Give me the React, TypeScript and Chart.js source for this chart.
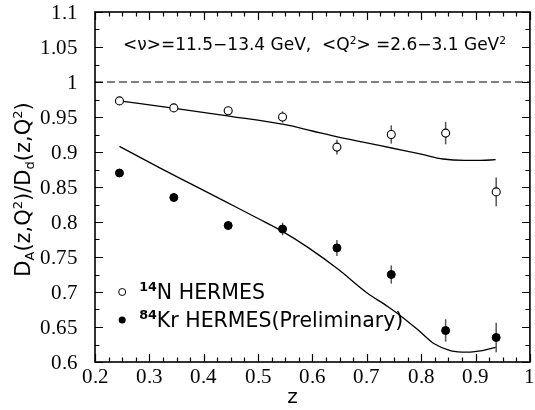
import React, { useEffect, useRef } from "react";
import { Chart, registerables } from "chart.js";

Chart.register(...registerables);

// ---- data ----
const zValues = [0.245, 0.345, 0.445, 0.545, 0.645, 0.745, 0.845, 0.938];
const nitrogenRatio = [0.973, 0.963, 0.959, 0.95, 0.907, 0.925, 0.927, 0.843];
const nitrogenError = [0.004, 0.004, 0.005, 0.008, 0.0105, 0.013, 0.016, 0.0205];
const kryptonRatio = [0.87, 0.835, 0.795, 0.79, 0.763, 0.725, 0.645, 0.635];
const kryptonError = [0.004, 0.006, 0.006, 0.009, 0.0114, 0.013, 0.016, 0.021];

const nCurveZ = [0.245, 0.35, 0.45, 0.55, 0.6, 0.65, 0.7, 0.75, 0.8, 0.84, 0.88, 0.91, 0.937];
const nCurveRatio = [0.973, 0.962, 0.951, 0.939, 0.93, 0.921, 0.913, 0.905, 0.897, 0.89, 0.888, 0.888, 0.889];
const krCurveZ = [0.245, 0.32, 0.38, 0.44, 0.5, 0.544, 0.593, 0.648, 0.7, 0.739, 0.757, 0.794, 0.824, 0.855, 0.885, 0.909, 0.937];
const krCurveRatio = [0.908, 0.877, 0.853, 0.829, 0.805, 0.787, 0.763, 0.732, 0.699, 0.679, 0.669, 0.646, 0.626, 0.616, 0.614, 0.616, 0.621];

const referenceZ = [0.2, 1];
const referenceRatio = [1, 1];

const xTickValues = [0.2, 0.3, 0.4, 0.5, 0.6, 0.7, 0.8, 0.9, 1];
const xTickLabels = ["0.2", "0.3", "0.4", "0.5", "0.6", "0.7", "0.8", "0.9", "1"];
const yTickValues = [0.6, 0.65, 0.7, 0.75, 0.8, 0.85, 0.9, 0.95, 1, 1.05, 1.1];
const yTickLabels = ["0.6", "0.65", "0.7", "0.75", "0.8", "0.85", "0.9", "0.95", "1", "1.05", "1.1"];
const xMinorDivisions = 4;
const yMinorDivisions = 2;

const annotationText = ["<ν>=11.5−13.4 GeV,  <Q", "2", "> =2.6−3.1 GeV", "2"];
const legendLabels = [
  { sup: "14", text: "N HERMES", filled: false, ratio: 0.7 },
  { sup: "84", text: "Kr HERMES(Preliminary)", filled: true, ratio: 0.66 },
];

const SANS = "'DejaVu Sans'";
const SERIF_FONT = "21px TickSerif, 'Liberation Serif', serif";

type Run = { text: string; mode?: "sup" | "sub"; bold?: boolean };

function runFont(size: number, r: Run, family: string) {
  const s = r.mode ? size * 0.62 : size;
  return `${r.bold ? "bold " : ""}${s}px ${family}`;
}

function runsWidth(ctx: CanvasRenderingContext2D, runs: Run[], size: number, family: string) {
  let w = 0;
  for (const r of runs) {
    ctx.font = runFont(size, r, family);
    w += ctx.measureText(r.text).width;
  }
  return w;
}

function drawRuns(ctx: CanvasRenderingContext2D, runs: Run[], x: number, y: number, size: number, family: string) {
  let cx = x;
  for (const r of runs) {
    ctx.font = runFont(size, r, family);
    const dy = r.mode === "sup" ? -size * 0.38 : r.mode === "sub" ? size * 0.18 : 0;
    ctx.fillText(r.text, cx, y + dy);
    cx += ctx.measureText(r.text).width;
  }
}

const errorBarPlugin = {
  id: "errorBars",
  beforeDatasetsDraw(chart: any) {
    const { ctx, scales } = chart;
    const xs = scales.x;
    const ys = scales.y;
    ctx.save();
    ctx.strokeStyle = "#555";
    ctx.lineWidth = 1.5;
    const sets = [
      [nitrogenRatio, nitrogenError],
      [kryptonRatio, kryptonError],
    ];
    for (const [vals, errs] of sets) {
      vals.forEach((v, i) => {
        const px = xs.getPixelForValue(zValues[i]);
        ctx.beginPath();
        ctx.moveTo(px, ys.getPixelForValue(v - errs[i]));
        ctx.lineTo(px, ys.getPixelForValue(v + errs[i]));
        ctx.stroke();
      });
    }
    ctx.restore();
  },
};

const framePlugin = {
  id: "frameTicks",
  afterDatasetsDraw(chart: any) {
    const { ctx, chartArea: a, scales } = chart;
    const xs = scales.x;
    const ys = scales.y;
    ctx.save();
    ctx.strokeStyle = "#000";
    ctx.lineWidth = 1.2;
    const major = 8;
    const minor = 4.5;
    const xTick = (v: number, len: number) => {
      const p = Math.round(xs.getPixelForValue(v)) + 0.5;
      ctx.beginPath();
      ctx.moveTo(p, a.bottom);
      ctx.lineTo(p, a.bottom - len);
      ctx.moveTo(p, a.top);
      ctx.lineTo(p, a.top + len);
      ctx.stroke();
    };
    const yTick = (v: number, len: number) => {
      const p = Math.round(ys.getPixelForValue(v)) + 0.5;
      ctx.beginPath();
      ctx.moveTo(a.left, p);
      ctx.lineTo(a.left + len, p);
      ctx.moveTo(a.right, p);
      ctx.lineTo(a.right - len, p);
      ctx.stroke();
    };
    xTickValues.forEach((v, i) => {
      xTick(v, major);
      if (i < xTickValues.length - 1) {
        const step = (xTickValues[i + 1] - v) / xMinorDivisions;
        for (let k = 1; k < xMinorDivisions; k++) xTick(v + k * step, minor);
      }
    });
    yTickValues.forEach((v, i) => {
      yTick(v, major);
      if (i < yTickValues.length - 1) {
        const step = (yTickValues[i + 1] - v) / yMinorDivisions;
        for (let k = 1; k < yMinorDivisions; k++) yTick(v + k * step, minor);
      }
    });
    ctx.lineWidth = 1.6;
    ctx.strokeRect(a.left, a.top, a.right - a.left, a.bottom - a.top);

    // tick labels (Times-like serif, positioned through the scales)
    ctx.fillStyle = "#000";
    ctx.font = SERIF_FONT;
    ctx.textBaseline = "alphabetic";
    ctx.textAlign = "right";
    yTickValues.forEach((v, i) => {
      ctx.fillText(yTickLabels[i], a.left - 17, ys.getPixelForValue(v) + 7);
    });
    ctx.textAlign = "center";
    xTickValues.forEach((v, i) => {
      ctx.fillText(xTickLabels[i], xs.getPixelForValue(v), a.bottom + 21);
    });
    ctx.restore();
  },
};

const textPlugin = {
  id: "texts",
  afterDraw(chart: any) {
    const { ctx, chartArea: a, scales } = chart;
    const xs = scales.x;
    const ys = scales.y;
    ctx.save();
    ctx.fillStyle = "#000";
    ctx.textBaseline = "alphabetic";
    ctx.textAlign = "left";

    // annotation
    const ann: Run[] = [
      { text: annotationText[0] },
      { text: annotationText[1], mode: "sup" },
      { text: annotationText[2] },
      { text: annotationText[3], mode: "sup" },
    ];
    drawRuns(ctx, ann, a.left + 28, a.top + 38, 17, SANS);

    // legend
    legendLabels.forEach((l) => {
      const px = xs.getPixelForValue(0.25);
      const py = ys.getPixelForValue(l.ratio);
      ctx.beginPath();
      ctx.arc(px, py, 3.5, 0, Math.PI * 2);
      if (l.filled) {
        ctx.fillStyle = "#000";
        ctx.fill();
      } else {
        ctx.fillStyle = "#fff";
        ctx.fill();
        ctx.strokeStyle = "#000";
        ctx.lineWidth = 1;
        ctx.stroke();
      }
      ctx.fillStyle = "#000";
      drawRuns(
        ctx,
        [{ text: l.sup, mode: "sup", bold: true }, { text: l.text }],
        px + 17,
        py + 7,
        20.5,
        SANS
      );
    });

    // x title
    ctx.font = `20px ${SANS}`;
    ctx.textAlign = "center";
    ctx.fillText("z", 292.5, 403);

    // y title
    const yt: Run[] = [
      { text: "D" },
      { text: "A", mode: "sub" },
      { text: "(z,Q" },
      { text: "2", mode: "sup" },
      { text: ")/D" },
      { text: "d", mode: "sub" },
      { text: "(z,Q" },
      { text: "2", mode: "sup" },
      { text: ")" },
    ];
    ctx.textAlign = "left";
    const w = runsWidth(ctx, yt, 21, SANS);
    ctx.translate(30, 189.5);
    ctx.rotate(-Math.PI / 2);
    drawRuns(ctx, yt, -w / 2, 0, 21, SANS);
    ctx.restore();
  },
};

export default function App() {
  const ref = useRef<HTMLCanvasElement | null>(null);

  useEffect(() => {
    document.body.style.margin = "0";
    const canvas = ref.current;
    if (!canvas) return;
    const toPts = (xs: number[], ys: number[]) => xs.map((x, i) => ({ x, y: ys[i] }));
    const chart = new Chart(canvas, {
      type: "scatter",
      data: {
        datasets: [
          {
            data: toPts(zValues, nitrogenRatio),
            pointRadius: 4,
            pointBackgroundColor: "#fff",
            pointBorderColor: "#000",
            pointBorderWidth: 1.1,
            showLine: false,
            order: 0,
          },
          {
            data: toPts(zValues, kryptonRatio),
            pointRadius: 4,
            pointBackgroundColor: "#000",
            pointBorderColor: "#000",
            pointBorderWidth: 1,
            showLine: false,
            order: 0,
          },
          {
            data: toPts(nCurveZ, nCurveRatio),
            showLine: true,
            pointRadius: 0,
            borderColor: "#000",
            borderWidth: 1.3,
            cubicInterpolationMode: "monotone",
            order: 1,
          },
          {
            data: toPts(krCurveZ, krCurveRatio),
            showLine: true,
            pointRadius: 0,
            borderColor: "#000",
            borderWidth: 1.3,
            cubicInterpolationMode: "monotone",
            order: 1,
          },
          {
            data: toPts(referenceZ, referenceRatio),
            showLine: true,
            pointRadius: 0,
            borderColor: "#000",
            borderWidth: 1,
            borderDash: [8, 4],
            order: 2,
          },
        ] as any,
      },
      options: {
        animation: false,
        responsive: false,
        events: [],
        layout: { padding: { top: 12, right: 2, left: 0, bottom: 0 } },
        plugins: { legend: { display: false }, tooltip: { enabled: false } },
        scales: {
          x: {
            type: "linear",
            min: 0.2,
            max: 1,
            grid: { display: false, drawTicks: false },
            border: { display: false },
            ticks: { display: false },
            afterBuildTicks: (s: any) => {
              s.ticks = xTickValues.map((v) => ({ value: v }));
            },
            afterFit: (s: any) => {
              s.height = 48;
              s.paddingLeft = 0;
              s.paddingRight = 0;
            },
          },
          y: {
            type: "linear",
            min: 0.6,
            max: 1.1,
            grid: { display: false, drawTicks: false },
            border: { display: false },
            ticks: { display: false },
            afterBuildTicks: (s: any) => {
              s.ticks = yTickValues.map((v) => ({ value: v }));
            },
            afterFit: (s: any) => {
              s.width = 95;
              s.paddingTop = 0;
              s.paddingBottom = 0;
            },
          },
        },
      } as any,
      plugins: [errorBarPlugin, framePlugin, textPlugin],
    });

    let alive = true;
    try {
      const FF = (window as any).FontFace;
      if (FF && (document as any).fonts) {
        const face = new FF("TickSerif", "local('Liberation Serif'), local('LiberationSerif-Regular'), local('LiberationSerif')");
        (document as any).fonts.add(face);
        face
          .load()
          .then(() => {
            if (alive) chart.update();
          })
          .catch(() => {});
      }
    } catch (e) {
      // keep fallback fonts
    }

    return () => {
      alive = false;
      chart.destroy();
    };
  }, []);

  return (
    <div style={{ position: "fixed", left: 0, top: 0, width: 535, height: 410, background: "#fff" }}>
      <canvas ref={ref} width={535} height={410} style={{ display: "block" }} />
    </div>
  );
}
